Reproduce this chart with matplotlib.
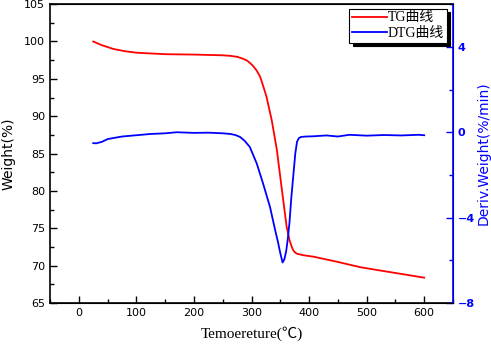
import matplotlib
matplotlib.use('Agg')
import matplotlib.pyplot as plt
from matplotlib.ticker import MultipleLocator

# TG curve (weight %)
tg_temp = [25, 40, 60, 80, 100, 150, 200, 250, 263, 275, 285, 292, 297, 303, 309,
           315, 320, 326, 335, 344, 352, 361, 366, 370, 373, 376, 379, 390, 408,
           450, 489, 520, 560, 600]
tg_weight = [100.0, 99.5, 99.0, 98.7, 98.5, 98.3, 98.25, 98.15, 98.08, 97.95,
             97.7, 97.45, 97.15, 96.7, 96.1, 95.27, 94.1, 92.6, 89.5, 85.5, 80.6,
             75.2, 73.4, 72.5, 72.0, 71.75, 71.6, 71.4, 71.2, 70.5, 69.8, 69.4,
             68.9, 68.4]

# DTG curve (%/min)
dtg_temp = [25, 30, 40, 50, 75, 100, 125, 150, 170, 200, 225, 250, 263, 272, 280,
            288, 297, 309, 320, 332, 341, 346, 350, 354, 357, 360, 363, 366, 369,
            373, 376, 379, 382, 386, 395, 407, 430, 450, 470, 500, 530, 560, 590,
            600]
dtg_value = [-0.51, -0.52, -0.45, -0.32, -0.2, -0.14, -0.08, -0.05, 0.0, -0.03,
             -0.02, -0.05, -0.08, -0.13, -0.22, -0.4, -0.69, -1.46, -2.4, -3.49,
             -4.58, -5.15, -5.67, -6.1, -5.95, -5.6, -5.0, -4.2, -3.1, -1.9, -1.0,
             -0.45, -0.28, -0.22, -0.2, -0.19, -0.15, -0.2, -0.12, -0.16, -0.13,
             -0.15, -0.12, -0.14]

serif = ['Liberation Serif', 'Noto Sans CJK SC']

fig = plt.figure(figsize=(4.91, 3.44), dpi=100)
ax = fig.add_axes([0.102, 0.119, 0.8206, 0.869])
ax2 = ax.twinx()

l1, = ax.plot(tg_temp, tg_weight, color='#ff0000', lw=1.3, label='TG曲线')
l2, = ax2.plot(dtg_temp, dtg_value, color='#0000ff', lw=1.3, label='DTG曲线')

ax.set_xlim(-50, 650)
ax.set_ylim(65, 105)
ax2.set_ylim(-8, 6)

ax.xaxis.set_major_locator(MultipleLocator(100))
ax.xaxis.set_minor_locator(MultipleLocator(50))
ax.yaxis.set_major_locator(MultipleLocator(5))
ax.yaxis.set_minor_locator(MultipleLocator(2.5))
ax2.yaxis.set_major_locator(MultipleLocator(4))
ax2.yaxis.set_minor_locator(MultipleLocator(2))

ax.tick_params(which='both', direction='in', top=False, right=False,
               labelsize=8, width=1)
ax.tick_params(which='major', length=5)
ax.tick_params(which='minor', length=3)
ax.set_xticks([0, 100, 200, 300, 400, 500, 600])

ax2.tick_params(which='both', direction='in', colors='#0000ff', labelsize=8, width=1)
ax2.tick_params(which='major', length=5)
ax2.tick_params(which='minor', length=3)
for t in ax2.get_yticklabels():
    t.set_fontweight('bold')
ax2.spines['right'].set_color('#0000ff')
ax2.spines['right'].set_linewidth(1.2)
for s in ['left', 'bottom', 'top']:
    ax.spines[s].set_linewidth(1.2)
ax2.spines['left'].set_visible(False)

ax.set_ylabel('Weight(%)', fontsize=10, labelpad=6)
ax2.set_ylabel('Deriv.Weight(%/min)', fontsize=10, color='#0000ff', labelpad=1)
ax.set_xlabel('Temoereture(℃)', fontsize=11, family=serif, labelpad=6)

leg = ax2.legend(handles=[l1, l2], loc='upper right', bbox_to_anchor=(0.985, 0.985),
                 fancybox=False, edgecolor='black', framealpha=1,
                 shadow={'color': 'black', 'alpha': 1, 'ox': 2.5, 'oy': -2.5},
                 prop={'family': serif, 'size': 10}, handlelength=2.5,
                 handletextpad=0.1, borderpad=0.2, labelspacing=0.2,
                 borderaxespad=0)
leg.get_frame().set_linewidth(0.8)

fig.savefig('out.png', dpi=100)
